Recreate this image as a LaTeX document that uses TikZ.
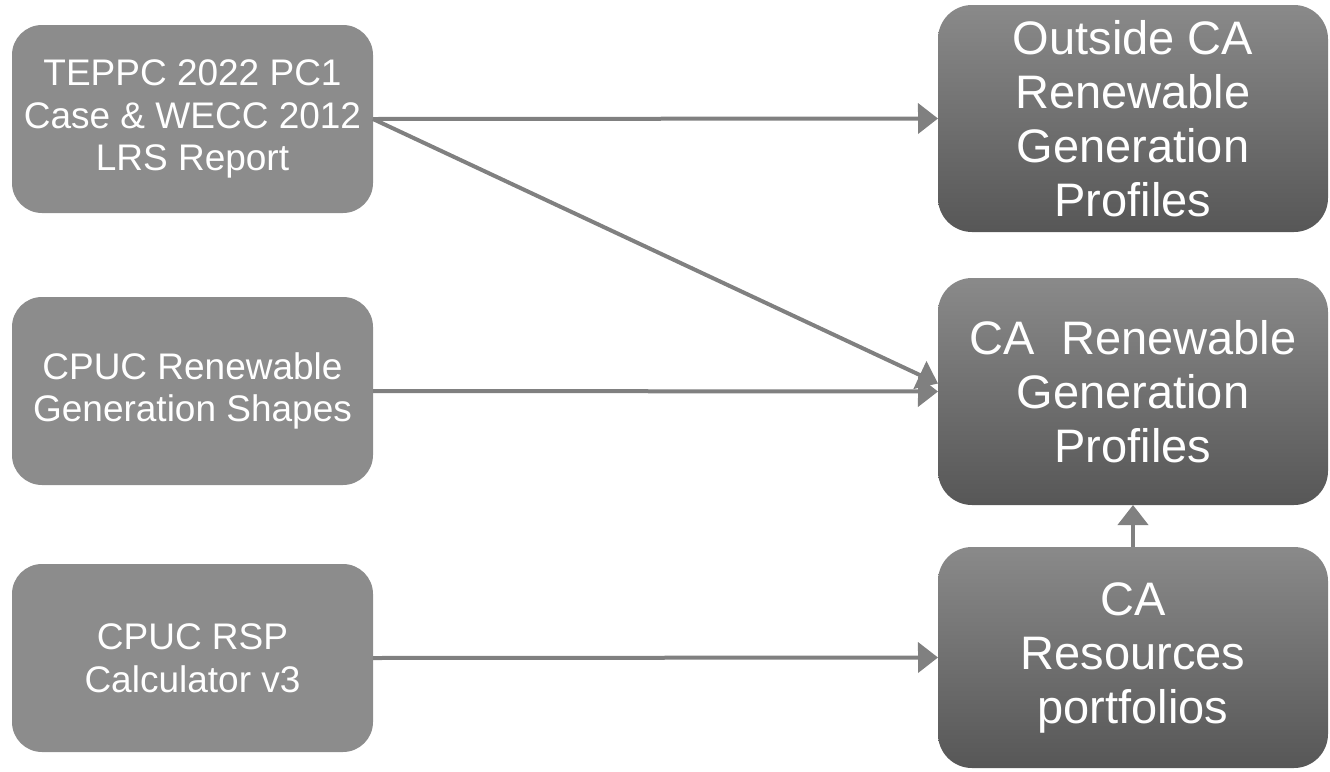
\documentclass[tikz,border=0pt]{standalone}
\usepackage{fontspec}
\setmainfont{Liberation Sans}
\usepackage{tikz}
\usetikzlibrary{positioning}
\usetikzlibrary{arrows.meta}
\tikzset{>={Triangle[width=15pt,length=10pt]}}

\begin{document}
\begin{tikzpicture}[x=0.5pt, y=-0.5pt, srcnode/.style={rectangle, rounded corners=15pt, fill=black!45, text=white, align=center, minimum width=180.5pt, minimum height=94pt, outer sep=0pt, font=\fontsize{18.5}{21.3}\selectfont}, outnode/.style={rectangle, rounded corners=17pt, top color=black!46, bottom color=black!66, text=white, align=center, minimum width=195pt, minimum height=113.5pt, outer sep=0pt, font=\fontsize{23.5}{27}\selectfont}, link/.style={draw=black!50, line width=2pt}]

    \useasboundingbox (0,0) rectangle (1330,772);

    %Nodes
    \node[srcnode](teppc) at (192.5,119){TEPPC 2022 PC1\\Case \& WECC 2012\\LRS Report};
    \node[srcnode](shapes)[below=42pt of teppc]{CPUC Renewable\\Generation Shapes};
    \node[srcnode](rsp)[below=39.5pt of shapes]{CPUC RSP\\Calculator v3};
    \node[outnode](caprof) at (1133,391.5){CA~~Renewable\\Generation\\Profiles};
    \node[outnode](outprof)[above=23pt of caprof]{Outside CA\\Renewable\\Generation\\Profiles};
    \node[outnode, minimum height=110.5pt](portf)[below=21pt of caprof]{CA\\Resources\\portfolios};

    %Lines
    \draw[link,->] (teppc.east) -- (outprof.west);
    \draw[link,->] (teppc.east) -- ([yshift=4pt]caprof.west);
    \draw[link,->] (shapes.east) -- (caprof.west);
    \draw[link,->] (rsp.east) -- (portf.west);
    \draw[link,->] (portf.north) -- (caprof.south);

\end{tikzpicture}
\end{document}
